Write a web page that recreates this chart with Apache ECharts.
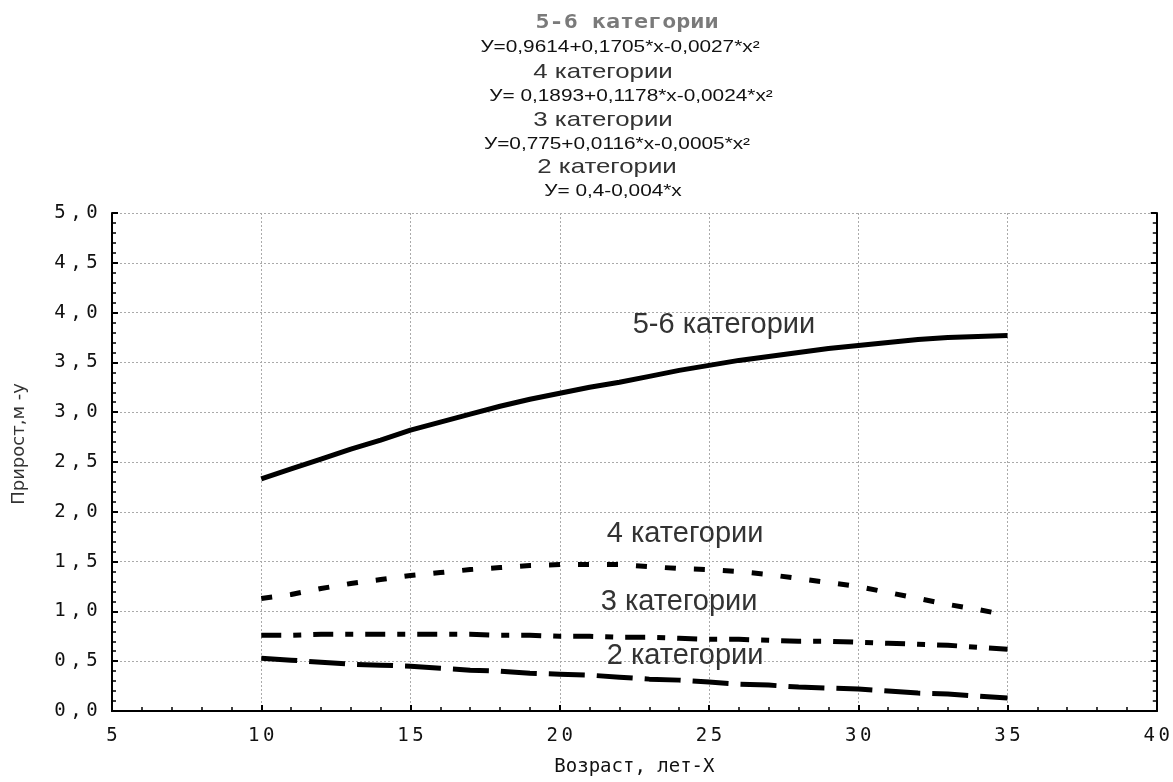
<!DOCTYPE html>
<html lang="ru">
<head>
    <meta charset="UTF-8">
    <title>Прирост по категориям</title>
    <style>
        html, body { margin: 0; padding: 0; background: #fff; }
    </style>
</head>
<body>
    <div id="chart" style="width:1173px;height:782px;"></div>
    <script src="https://cdn.jsdelivr.net/npm/echarts@6/dist/echarts.min.js"></script>
    <script>
        // ages (x) and growth values (y)
        var ages = [10, 11, 12, 13, 14, 15, 16, 17, 18, 19, 20, 21, 22, 23, 24, 25, 26, 27, 28, 29, 30, 31, 32, 33, 34, 35]
        var ages4 = [10, 11, 12, 13, 14, 15, 16, 17, 18, 19, 20, 21, 22, 23, 24, 25, 26, 27, 28, 29, 30, 31, 32, 33, 34, 34.5]

        var cat56 = [2.33, 2.43, 2.53, 2.63, 2.72, 2.82, 2.90, 2.98, 3.06, 3.13, 3.19, 3.25, 3.30, 3.36, 3.42, 3.47, 3.52, 3.56, 3.60, 3.64, 3.67, 3.70, 3.73, 3.75, 3.76, 3.77]
        var cat4 = [1.13, 1.17, 1.23, 1.28, 1.32, 1.36, 1.39, 1.42, 1.44, 1.46, 1.47, 1.47, 1.47, 1.45, 1.43, 1.42, 1.40, 1.37, 1.33, 1.29, 1.25, 1.19, 1.13, 1.07, 1.02, 0.99]
        var cat3 = [0.76, 0.76, 0.77, 0.77, 0.77, 0.77, 0.77, 0.77, 0.76, 0.76, 0.75, 0.75, 0.74, 0.74, 0.73, 0.72, 0.72, 0.71, 0.70, 0.70, 0.69, 0.68, 0.67, 0.66, 0.64, 0.62]
        var cat2 = [0.53, 0.51, 0.49, 0.47, 0.46, 0.45, 0.43, 0.41, 0.40, 0.38, 0.37, 0.36, 0.34, 0.32, 0.31, 0.29, 0.27, 0.26, 0.24, 0.23, 0.22, 0.20, 0.18, 0.17, 0.15, 0.13]

        var seriesNames = ['5-6 категории', '4 категории', '3 категории', '2 категории']
        var titleLines = [
            '5-6 категории',
            'У=0,9614+0,1705*x-0,0027*x²',
            '4 категории',
            'У= 0,1893+0,1178*x-0,0024*x²',
            '3 категории',
            'У=0,775+0,0116*x-0,0005*x²',
            '2 категории',
            'У= 0,4-0,004*x'
        ]

        function pairs(xs, ys) {
            return xs.map(function (x, i) { return [x, ys[i]] })
        }

        // each character in its own fixed-width box (the original has spaced-out tick text)
        function spaced(s) {
            return s.split('').map(function (c) { return '{c|' + c + '}' }).join('')
        }

        function curve(name, xs, ys, dash, labelAt) {
            return {
                name: name,
                type: 'line',
                showSymbol: false,
                symbol: 'none',
                data: pairs(xs, ys),
                lineStyle: { color: '#000', width: 5, type: dash, cap: 'butt' },
                markPoint: {
                    symbol: 'circle',
                    symbolSize: 0,
                    silent: true,
                    label: {
                        show: true,
                        formatter: name,
                        fontFamily: 'Liberation Sans',
                        fontSize: 29,
                        color: '#333',
                        position: 'inside'
                    },
                    data: [{ coord: labelAt }]
                }
            }
        }

        var titleY = [23, 48, 72, 97, 120, 145, 167, 192]
        var titleX = [627, 620, 603, 631, 603, 617, 607, 613]
        var titleGraphic = titleLines.map(function (t, i) {
            var st
            if (i === 0) {
                st = { font: 'bold 19px "DejaVu Sans Mono"', fill: '#7a7a7a' }
            } else if (i % 2 === 1) {
                st = { font: '16px "Liberation Sans"', fill: '#111' }
            } else {
                st = { font: '21px "Liberation Sans"', fill: '#333' }
            }
            st.text = t
            st.x = 0
            st.y = 0
            st.align = 'center'
            st.verticalAlign = 'middle'
            return { type: 'text', x: titleX[i], y: titleY[i], scaleX: i % 2 === 1 ? 1.3 : 1.23, style: st }
        })

        var xRich = { c: { width: 15, align: 'center', fontFamily: 'DejaVu Sans Mono', fontSize: 19, color: '#111' } }
        var yRich = { c: { width: 16, align: 'center', fontFamily: 'DejaVu Sans Mono', fontSize: 19, color: '#111' } }

        var chart = echarts.init(document.getElementById('chart'))
        chart.setOption({
            animation: false,
            backgroundColor: '#fff',
            graphic: titleGraphic,
            grid: { left: 112, right: 16, top: 213, bottom: 64 },
            xAxis: [{
                type: 'value', min: 5, max: 40, interval: 5,
                name: 'Возраст, лет-X', nameLocation: 'middle', nameGap: 47,
                nameTextStyle: { fontFamily: 'DejaVu Sans Mono', fontSize: 19, color: '#111' },
                axisLine: { lineStyle: { color: '#000', width: 2 } },
                axisTick: { inside: true, length: 6, lineStyle: { color: '#000', width: 2 } },
                minorTick: { show: true, splitNumber: 5, length: 4, lineStyle: { color: '#000', width: 1.5 } },
                axisLabel: {
                    margin: 16,
                    formatter: function (v) { return spaced(String(v)) },
                    rich: xRich
                },
                splitLine: { show: true, lineStyle: { color: '#aaa', type: [2, 2], width: 1 } }
            }, {
                type: 'value', min: 5, max: 40, position: 'top',
                axisLine: { show: true, lineStyle: { color: '#000', width: 2 } },
                axisTick: { show: false }, axisLabel: { show: false }, splitLine: { show: false }
            }],
            yAxis: [{
                type: 'value', min: 0, max: 5, interval: 0.5,
                name: 'Прирост,м -у', nameLocation: 'middle', nameGap: 84,
                nameTextStyle: { fontFamily: 'DejaVu Sans', fontSize: 18, color: '#333', padding: [0, 0, 0, 36] },
                axisLine: { show: true, lineStyle: { color: '#000', width: 2 } },
                axisTick: { inside: true, length: 6, lineStyle: { color: '#000', width: 2 } },
                minorTick: { show: true, splitNumber: 5, length: 4, lineStyle: { color: '#000', width: 1.5 } },
                axisLabel: {
                    margin: 12,
                    formatter: function (v) { return spaced(v.toFixed(1).replace('.', ',')) },
                    rich: yRich
                },
                splitLine: { show: true, lineStyle: { color: '#aaa', type: [2, 2], width: 1 } }
            }, {
                type: 'value', min: 0, max: 5, interval: 0.5, position: 'right',
                axisLine: { show: true, lineStyle: { color: '#000', width: 2 } },
                axisTick: { inside: true, length: 6, lineStyle: { color: '#000', width: 2 } },
                minorTick: { show: true, splitNumber: 5, length: 4, lineStyle: { color: '#000', width: 1.5 } },
                axisLabel: { show: false }, splitLine: { show: false }
            }],
            series: [
                curve(seriesNames[0], ages, cat56, 'solid', [25.5, 3.88]),
                curve(seriesNames[1], ages4, cat4, [11, 18], [24.2, 1.78]),
                curve(seriesNames[2], ages, cat3, [20, 12, 8, 12], [24.0, 1.09]),
                curve(seriesNames[3], ages, cat2, [36, 12], [24.2, 0.55])
            ]
        })
    </script>
</body>
</html>
